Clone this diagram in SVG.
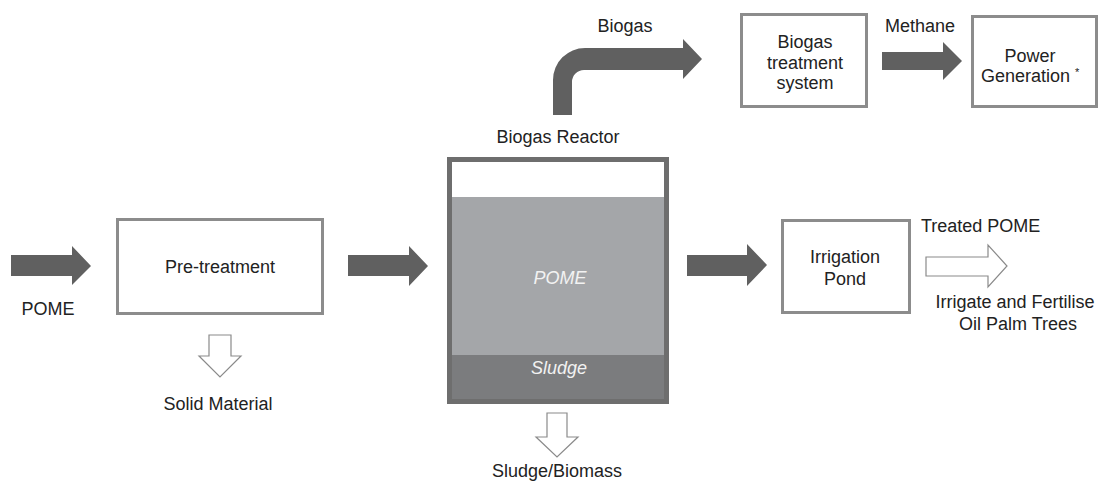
<svg xmlns="http://www.w3.org/2000/svg" width="1113" height="482" viewBox="0 0 1113 482">
<style>
text{font-family:"Liberation Sans",Arial,sans-serif;font-size:18px;fill:#222;}
.c{text-anchor:middle;}
.it{font-style:italic;fill:#f2f2f2;}
.box{fill:#fff;stroke:#8c8c8c;stroke-width:3;}
.solid{fill:#606060;}
.hollow{fill:#fff;stroke:#8a8a8a;stroke-width:1.2;}
</style>
<rect width="1113" height="482" fill="#fff"/>
<g id="connectors">
<path class="solid" d="M11,255 H72 V246 L91,266 L72,285 V276 H11 Z"/>
<path class="solid" d="M348,255 H409 V246 L428,266 L409,286 V276 H348 Z"/>
<path class="solid" d="M687,255 H747 V244 L767,265 L747,286 V276 H687 Z"/>
<path class="solid" d="M882,52 H943 V42 L962,61 L943,80 V70 H882 Z"/>
<path class="solid" d="M553,115 V80 A32,32 0 0 1 585,48 H683 V39 L702,59 L683,79 V70 H584 A12,12 0 0 0 572,82 V115 Z"/>
<path class="hollow" d="M926,257 H988 V245 L1007,266 L988,287 V276 H926 Z"/>
<path class="hollow" d="M209,335 V356 H199 L220,377 L241,356 H231 V335 Z"/>
<path class="hollow" d="M547,413 V437 H536 L557,457 L578,437 H567 V413 Z"/>
</g>
<g id="pome-in">
<text class="c" x="48" y="315">POME</text>
</g>
<g id="pretreatment">
<rect class="box" x="117.5" y="219.5" width="205" height="94"/>
<text class="c" x="220" y="273">Pre-treatment</text>
</g>
<g id="solid-material">
<text class="c" x="218" y="410">Solid Material</text>
</g>
<g id="reactor">
<text class="c" x="558" y="143">Biogas Reactor</text>
<rect x="447" y="157" width="222" height="247" fill="#6e6e6e"/>
<rect x="452" y="162" width="212" height="35" fill="#fff"/>
<rect x="452" y="197" width="212" height="158" fill="#a4a6a9"/>
<rect x="452" y="355" width="212" height="44" fill="#7b7c7e"/>
<text class="c it" x="560" y="284">POME</text>
<text class="c it" x="559" y="374">Sludge</text>
</g>
<g id="sludge-biomass">
<text class="c" x="557" y="477">Sludge/Biomass</text>
</g>
<g id="biogas-label">
<text class="c" x="625" y="32">Biogas</text>
</g>
<g id="biogas-treatment">
<rect class="box" x="741.5" y="14.5" width="125" height="92"/>
<text class="c" x="805" y="48">Biogas</text>
<text class="c" x="805" y="69">treatment</text>
<text class="c" x="805" y="89">system</text>
</g>
<g id="methane-label">
<text class="c" x="920" y="32">Methane</text>
</g>
<g id="power-generation">
<rect class="box" x="972.5" y="16.5" width="124" height="90"/>
<text class="c" x="1030" y="62">Power</text>
<text x="981" y="82">Generation <tspan font-size="11" dy="-6">*</tspan></text>
</g>
<g id="irrigation-pond">
<rect class="box" x="782.5" y="220.5" width="127" height="92"/>
<text class="c" x="845" y="263">Irrigation</text>
<text class="c" x="845" y="285">Pond</text>
</g>
<g id="treated-pome">
<text x="921" y="232">Treated POME</text>
<text class="c" x="1015" y="308">Irrigate and Fertilise</text>
<text class="c" x="1018" y="330">Oil Palm Trees</text>
</g>
</svg>
